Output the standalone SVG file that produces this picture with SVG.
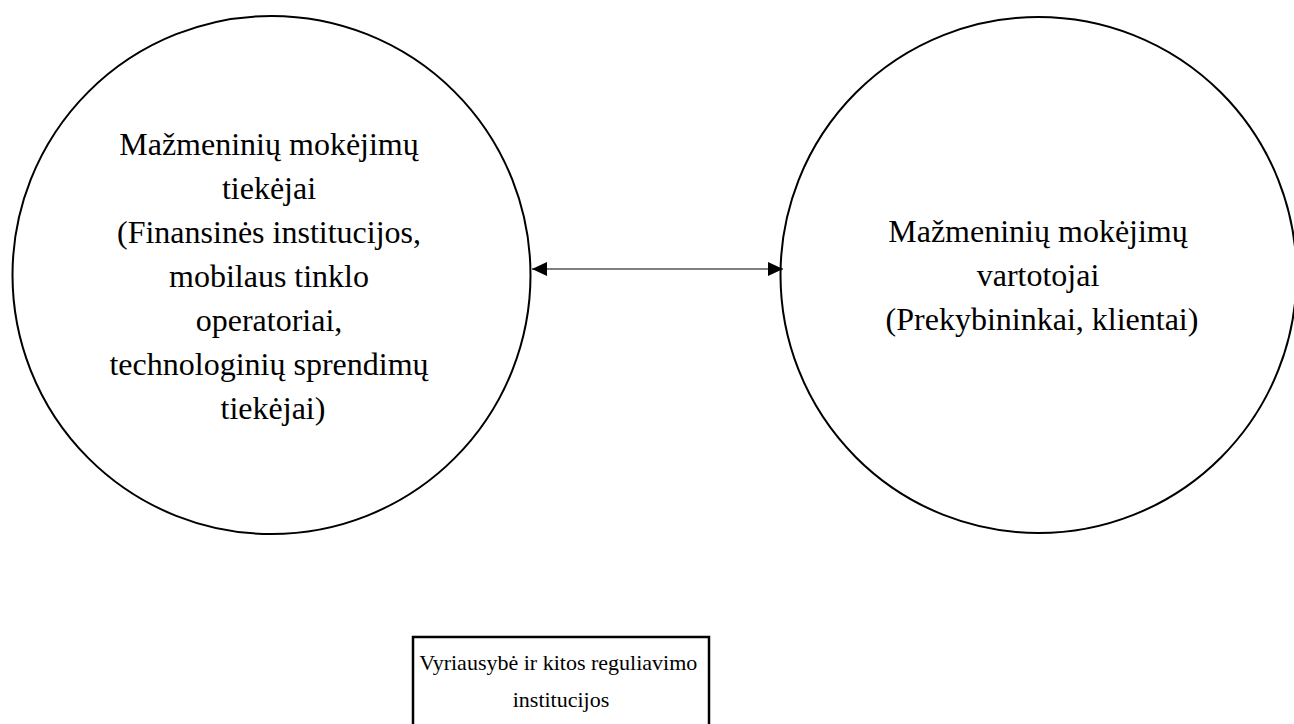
<svg xmlns="http://www.w3.org/2000/svg" width="1294" height="724" viewBox="0 0 1294 724">
<style>
.shape{fill:#fff;stroke:#000;stroke-width:2}
.box{fill:#fff;stroke:#000;stroke-width:2.5}
.t{font-family:"Liberation Serif","Times New Roman",serif;font-size:32px;fill:#000;text-anchor:middle}
.tb{font-family:"Liberation Serif","Times New Roman",serif;font-size:22px;fill:#000;text-anchor:middle}
.conn{stroke:#000;stroke-width:1.2;fill:none}
</style>
<defs>
<marker id="ah" markerWidth="15" markerHeight="14" refX="15" refY="7" orient="auto-start-reverse" markerUnits="userSpaceOnUse">
<path d="M0,0 L15,7 L0,14 Z" fill="#000"/>
</marker>
</defs>
<rect width="1294" height="724" fill="#fff"/>
<g id="node-providers">
<circle class="shape" cx="271.5" cy="275" r="259"/>
<text class="t">
<tspan x="273" y="155">Mažmeninių mokėjimų</tspan>
<tspan x="273" y="199">tiekėjai</tspan>
<tspan x="273" y="243">(Finansinės institucijos,</tspan>
<tspan x="273" y="287">mobilaus tinklo</tspan>
<tspan x="273" y="331">operatoriai,</tspan>
<tspan x="273" y="375">technologinių sprendimų</tspan>
<tspan x="273" y="419">tiekėjai)</tspan>
</text>
</g>
<g id="node-users">
<circle class="shape" cx="1038.5" cy="275" r="258"/>
<text class="t">
<tspan x="1042" y="242">Mažmeninių mokėjimų</tspan>
<tspan x="1042" y="286">vartotojai</tspan>
<tspan x="1042" y="330">(Prekybininkai, klientai)</tspan>
</text>
</g>
<g id="node-government">
<rect class="box" x="413" y="637" width="296" height="100"/>
<text class="tb">
<tspan x="561" y="670">Vyriausybė ir kitos reguliavimo</tspan>
<tspan x="561" y="707">institucijos</tspan>
</text>
</g>
<g id="connectors">
<line class="conn" x1="532" y1="269" x2="783" y2="269" marker-start="url(#ah)" marker-end="url(#ah)"/>
</g>
</svg>
